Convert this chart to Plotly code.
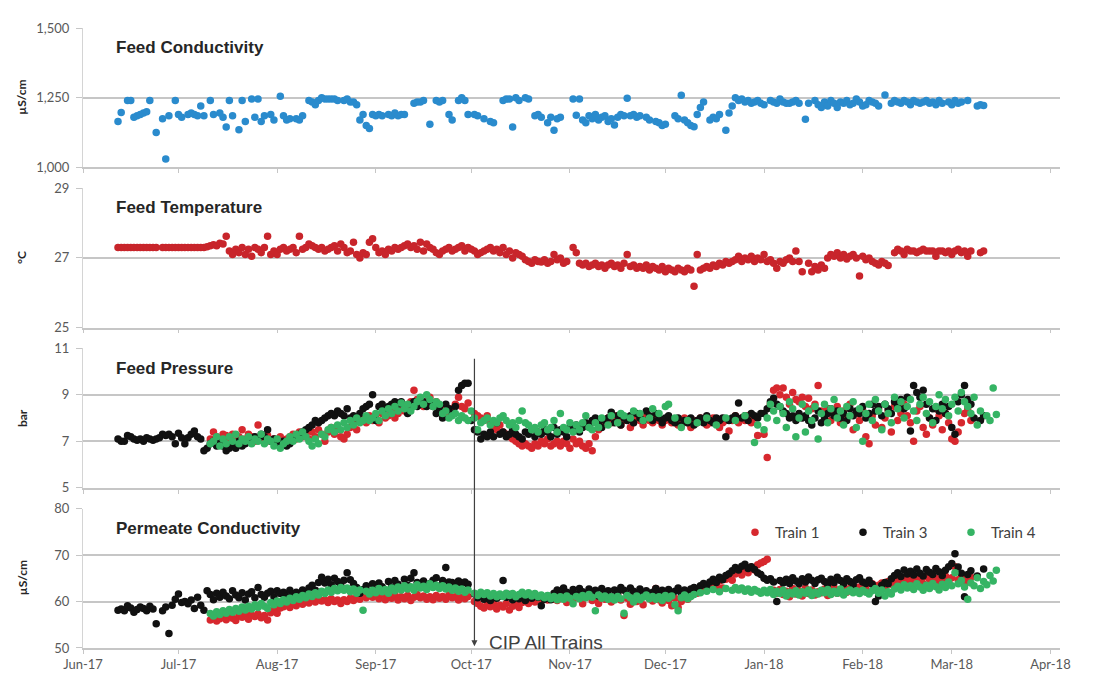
import pandas as pd
import plotly.graph_objects as go
from plotly.subplots import make_subplots

# ---------------- data (daily readings, None = no reading) ----------------
START_T3 = "2017-06-12"   # feed data and Train 3 start
START_T14 = "2017-07-11"  # Train 1 and Train 4 start
CIP_DATE = "2017-10-02"

FEED_COND = [
 1165,1197,None,1240,1240,1180,1185, 1190,1195,1200,1240,None,1125,None,
 1175,1030,1185,None,1240,1190,1180, None,1190,1195,1190,1185,1220,1185,
 None,1240,1190,None,1195,1180,1145, 1240,1185,None,1135,1240,1165,None,
 1245,1180,1245,1165,1185,None,1190, 1170,None,1255,1185,1170,1175,None,
 1175,1170,1185,None,1240,1235,1225, 1240,1250,1245,1245,1245,1245,1240,
 None,1240,1245,1235,1235,1225,1170, 1190,1150,1140,1190,1185,1190,1185,
 None,1190,1185,1195,1185,1190,1190, None,None,1230,1235,1235,1240,None,
 1155,None,1240,1235,1240,None,1190, 1170,None,1240,1250,1240,1190,None,
 1190,1185,None,1175,None,1165,1160, None,None,1240,1245,1245,1145,1250,
 1240,None,1250,1245,None,1185,1190, 1180,None,1160,1180,1133,1175,1180,
 None,None,None,1245,1187,1245,1170, 1160,1185,1175,1190,1170,1180,1185,
 1165,1175,1152,1180,1190,1185,1248, 1185,1190,1180,1185,None,1180,1170,
 None,1165,1160,1150,1155,None,None, 1185,1175,1259,1170,1160,1150,1146,
 1190,1215,1235,None,1170,1180,1175, 1190,None,1133,1195,1220,1250,1240,
 1245,1235,1240,1230,1235,1240,1230, 1225,None,1240,1235,1230,1245,1235,
 1230,1230,1235,1240,1230,None,1173, 1230,None,1240,1225,1215,1235,1220,
 1240,1230,1215,1235,1230,1240,1225, 1230,1245,1235,1220,1225,1240,1235,
 1230,1220,None,1260,None,1230,1240, 1235,1230,1240,1235,1225,1240,1235,
 1230,1235,1240,1230,1235,1225,1240, 1230,None,1235,1225,1240,1230,1235,
 None,1240,None,None,1220,1225,1222]

FEED_TEMP = [
 27.3,27.3,27.3,27.3,27.3,27.3,27.3, 27.3,27.3,27.3,27.3,27.3,27.3,None,
 27.3,27.3,27.3,27.3,27.3,27.3,27.3, 27.3,27.3,27.3,27.3,27.3,27.3,27.3,
 27.32,27.35,27.38,27.35,27.42,27.4,27.62, 27.2,27.1,27.25,27.15,27.3,27.1,27.25,
 27.05,27.3,27.25,27.15,27.3,27.62,27.1, 27.2,27.1,27.25,27.3,27.2,27.25,27.3,
 27.15,27.62,27.25,27.3,27.4,27.35,27.3, 27.25,27.3,27.2,27.25,27.3,27.35,27.2,
 27.4,27.3,27.15,27.2,27.45,27.1,27.0, 27.15,27.1,27.45,27.55,27.3,27.15,27.2,
 27.1,27.25,27.2,27.3,27.25,27.3,27.35, 27.4,27.3,27.35,27.25,27.45,27.2,27.4,
 27.3,27.25,27.15,27.1,27.2,27.25,27.3, 27.2,27.25,27.3,27.35,27.2,27.3,27.25,
 27.2,27.1,27.15,27.2,27.25,27.3,27.2, 27.25,27.15,27.3,27.1,27.2,27.0,27.15,
 27.1,27.05,26.95,26.9,26.85,26.95,26.9, 26.88,26.95,26.85,26.9,27.1,26.95,27.0,
 26.85,26.9,None,27.3,27.15,26.85,26.8, 26.85,26.75,26.8,26.85,26.75,26.8,26.7,
 26.8,26.85,26.75,26.8,26.7,26.85,27.1, 26.75,26.8,26.7,26.75,26.7,26.8,26.65,
 26.75,26.7,26.65,26.75,26.6,26.7,26.65, 26.6,26.7,26.65,26.6,26.7,26.65,26.19,
 27.1,26.65,26.7,26.75,26.7,26.8,26.75, 26.85,26.8,26.9,26.85,26.9,26.95,27.05,
 26.9,27.0,26.95,27.05,26.9,27.0,26.95, 27.1,26.9,26.95,26.85,26.7,26.9,26.85,
 26.95,27.0,26.9,27.2,26.9,26.6,None, 26.85,26.6,26.75,26.65,26.8,26.7,27.0,
 27.1,27.05,27.15,27.0,27.1,26.97,27.05, 27.1,27.0,26.48,27.05,26.95,27.0,26.9,
 26.85,26.8,26.9,26.85,26.78,None,27.15, 27.25,27.2,27.1,27.25,27.2,27.2,27.15,
 27.2,27.25,27.2,27.2,27.2,27.05,27.2, 27.2,27.15,27.2,27.1,27.2,27.25,27.15,
 27.2,27.05,27.2,None,None,27.15,27.2]

PRESS_T3 = [
 7.1,7.0,7.0,7.25,7.2,7.1,7.05, 7.1,7.0,7.15,7.1,7.05,7.1,7.15,
 7.3,7.25,7.3,7.2,6.9,7.35,7.15, 6.9,7.15,7.3,7.45,7.2,7.1,6.6,
 6.7,6.9,7.0,6.8,7.0,6.8,6.6, 6.7,6.9,6.7,7.0,6.8,6.9,7.1,
 7.0,7.2,7.1,7.3,7.2,7.5,7.0, 7.1,7.0,6.9,7.0,6.8,6.9,7.1,
 7.2,7.3,7.4,7.5,7.6,7.7,7.9, 7.8,7.9,8.0,8.1,8.2,8.1,8.3,
 8.2,8.1,8.4,8.0,8.1,8.0,8.2, 8.4,8.5,8.6,9.0,7.9,8.5,8.6,
 8.4,8.5,8.6,8.7,8.6,8.7,8.5, 8.2,8.6,8.7,8.5,8.6,8.7,8.5,
 8.6,8.5,8.2,8.4,8.0,8.6,8.4, 8.2,8.5,9.2,9.4,9.5,9.5,7.9,
 7.5,7.4,7.1,7.3,7.2,7.4,7.2, 7.8,7.3,7.4,7.2,7.3,7.5,7.3,
 7.2,7.1,7.4,7.3,7.5,7.2,7.4, 7.3,7.5,7.4,7.2,7.6,7.3,7.5,
 7.4,7.2,7.6,7.5,7.7,7.4,7.6, 7.8,7.7,7.9,8.0,7.8,7.6,7.9,
 8.0,8.25,7.8,8.1,7.7,8.0,7.9, 8.1,7.8,8.2,8.0,7.9,8.3,8.1,
 7.9,8.2,8.0,7.8,8.0,8.1,7.9, 7.8,8.0,7.7,7.9,7.8,8.0,7.7,
 7.9,8.0,7.8,8.1,7.9,7.8,8.0, 7.9,8.0,7.2,7.9,8.0,8.1,8.65,
 8.0,8.1,7.9,8.2,8.1,8.0,8.2, 8.2,8.4,8.7,8.85,8.6,8.5,8.3,
 8.2,8.0,8.1,7.9,8.2,8.0,8.1, 7.9,7.7,8.0,8.3,7.8,8.0,8.2,
 8.4,8.1,8.3,8.0,8.2,7.9,8.4, 8.1,8.3,8.2,8.5,8.0,8.2,8.6,
 8.3,8.5,8.1,8.6,8.4,8.2,8.7, 8.5,8.8,8.4,8.9,7.45,9.4,9.1,
 8.9,9.2,8.6,8.0,8.4,7.9,8.3, 8.6,8.2,8.5,7.6,7.3,8.7,9.0,
 9.4,8.8,8.6,8.0,None,7.9,8.1]

PRESS_T1 = [
 7.1,7.4,7.2,7.0,7.3,7.25,7.1, 7.3,7.0,7.2,7.5,7.1,7.3,7.2,
 7.0,7.7,7.2,7.1,7.25,7.0,7.1, 6.9,7.2,7.0,7.1,7.2,7.3,7.1,
 7.4,7.2,7.3,7.1,7.4,7.2,7.5, 7.3,7.0,7.4,7.6,7.3,7.5,7.2,
 7.1,7.3,7.6,7.8,7.5,7.9,8.0, 7.8,8.1,7.9,8.0,7.8,8.2,8.0,
 8.1,8.3,8.0,8.2,8.4,8.3,8.5, 8.7,9.2,8.8,8.6,8.5,8.7,8.9,
 8.6,8.7,8.5,8.3,8.4,8.2,8.4, 8.6,8.9,8.5,8.4,8.65,None,8.2,
 8.1,8.0,7.9,8.1,7.8,7.6,7.5, 7.7,7.4,7.3,7.2,7.1,7.0,6.9,
 6.8,6.9,6.8,6.7,6.9,6.8,7.0, 6.9,7.1,6.8,6.9,7.0,6.8,7.0,
 6.9,6.7,7.1,6.9,7.0,6.8,6.7, 6.9,6.6,7.2,7.5,7.7,7.9,8.0,
 7.8,8.1,7.9,7.7,7.9,8.0,7.6, 7.8,8.0,7.9,7.7,8.1,7.9,7.8,
 8.0,7.9,7.7,7.9,8.0,7.8,7.9, 7.7,7.9,8.0,7.8,7.6,7.9,7.8,
 8.0,7.9,7.7,7.8,8.0,7.9,7.6, 7.8,7.9,7.45,7.9,8.1,7.8,8.0,
 7.9,8.1,7.8,8.0,7.25,None,7.3, 6.3,8.6,9.2,9.3,9.0,9.3,8.9,
 8.6,9.1,8.8,8.7,8.9,8.5,8.85, 8.4,8.6,9.4,8.3,8.1,8.4,7.9,
 8.2,8.5,7.8,8.3,8.0,8.6,7.5, 8.2,7.9,8.3,7.2,6.9,8.1,7.7,
 8.4,7.6,8.0,8.3,7.4,8.5,7.9, 8.2,8.6,8.1,7.8,7.0,8.3,8.5,
 7.6,7.3,8.0,7.7,8.4,8.1,7.5, 8.2,7.8,7.1,7.0,7.4,7.8,8.2,
 8.4,7.9]

PRESS_T4 = [
 6.9,7.0,7.2,6.8,7.1,6.9,7.2, 7.0,7.3,6.9,7.1,7.0,7.2,6.9,
 7.1,7.0,7.3,6.9,7.1,7.0,6.8, 7.1,6.7,6.9,7.0,7.2,7.0,7.3,
 7.1,7.4,7.2,7.0,6.8,7.1,6.9, 7.3,7.2,7.5,7.6,7.4,7.7,7.5,
 7.8,7.6,7.9,7.7,8.0,7.8,7.9, 8.1,7.9,8.0,8.2,7.9,8.3,8.1,
 8.4,8.2,8.5,8.3,8.65,8.4,8.6, 8.3,8.5,8.7,8.9,8.6,9.0,8.8,
 8.5,8.7,8.6,8.2,8.3,8.0,8.1, 8.2,7.9,8.1,8.0,7.9,8.3,8.0,
 7.5,7.8,7.9,8.0,7.7,7.9,7.8, 8.0,8.1,7.9,7.7,7.8,7.6,7.9,
 8.3,7.8,7.7,7.5,7.6,7.4,7.7, 7.8,7.5,7.6,7.9,7.4,8.2,7.6,
 7.5,7.8,7.4,7.7,7.5,7.8,8.1, 7.6,7.5,7.8,7.6,8.0,None,7.7,
 8.1,None,7.8,8.2,8.1,None,8.0, 8.3,None,8.2,7.9,None,8.0,8.4,
 None,8.2,None,8.5,8.6,None,8.0, None,7.6,None,7.9,None,None,7.8,
 None,None,8.0,None,None,7.7,None, None,8.0,None,None,7.9,None,None,
 8.1,None,None,6.95,7.7,None,7.5, 8.0,8.6,8.3,7.9,8.5,8.2,7.6,
 8.7,8.4,7.2,8.0,8.6,7.4,8.3, 7.9,8.5,7.1,8.2,8.6,7.8,8.4,
 8.8,8.0,8.3,7.7,8.5,8.1,8.7, 7.6,8.4,7.0,8.2,8.6,7.9,8.8,
 8.3,7.5,8.6,8.2,7.8,8.9,8.4, 8.7,8.0,8.5,8.8,8.3,7.9,8.6,
 8.9,8.2,8.7,7.8,8.5,9.0,8.4, 8.8,8.1,8.6,8.9,8.3,9.1,8.7,
 8.5,8.2,8.9,7.7,8.3,None,8.1, 7.9,9.3,8.15]

PERM_T3 = [
 58.1,58.4,58.0,59.1,58.6,57.7,58.3, 58.8,58.5,58.0,59.0,58.4,55.2,None,
 58.0,58.8,53.1,59.2,60.5,61.6,59.8, 60.0,59.5,60.3,58.5,60.9,59.2,58.1,
 62.3,61.5,60.4,61.8,60.9,62.0,61.2, 60.6,62.3,61.4,60.8,61.9,60.3,61.6,
 62.1,60.8,63.0,61.5,60.9,61.8,62.2, 61.0,62.3,61.7,62.0,61.1,62.4,61.6,
 62.0,61.3,62.5,61.8,62.9,63.5,62.4, 64.1,65.2,64.0,64.8,63.6,65.0,64.3,
 63.5,64.6,66.2,64.7,63.9,63.0,61.8, 62.6,63.4,62.1,63.8,62.5,64.0,63.2,
 62.4,64.3,63.1,64.5,63.7,62.9,64.8, 63.5,65.0,66.2,64.1,63.6,64.4,62.8,
 63.9,64.6,65.1,63.3,64.5,67.3,64.2, 64.1,63.8,64.4,63.9,64.2,63.7,None,
 61.6,60.8,61.3,60.5,61.0,60.2,61.4, 60.7,61.2,64.5,60.9,61.5,60.4,61.1,
 60.6,61.3,60.2,61.0,60.7,61.5,60.9, 59.1,60.5,61.2,60.4,61.8,62.5,61.6,
 62.9,62.0,61.3,62.6,61.5,62.8,62.1, 61.4,62.7,61.9,62.4,61.2,62.8,61.6,
 62.3,61.0,62.5,61.8,63.0,62.4,61.5, 62.9,62.2,61.6,62.7,61.9,62.3,61.4,
 62.0,62.8,61.7,62.4,61.9,62.6,61.5, 62.2,62.9,61.8,62.5,62.0,62.7,63.0,
 62.6,63.4,63.9,63.3,64.2,64.8,64.1, 65.2,64.7,65.6,66.0,66.6,67.3,66.8,
 67.6,68.0,67.1,67.5,66.9,66.2,65.8, 65.0,64.6,64.9,64.2,60.0,64.5,64.0,
 64.8,63.9,65.1,64.4,63.8,64.9,64.2, 65.3,64.6,63.9,64.7,65.0,64.3,63.7,
 64.8,64.1,65.2,64.5,63.8,64.9,64.3, 63.6,64.7,65.1,64.2,63.9,64.6,63.7,
 60.0,61.2,63.5,64.1,63.8,64.9,65.6, 66.2,65.4,66.8,65.9,66.5,65.7,67.0,
 66.1,65.5,66.9,66.3,65.8,67.1,66.4, 65.6,66.7,67.5,68.2,70.3,67.4,66.1,
 61.0,65.8,66.6,None,65.5,None,67.0]

PERM_T1 = [
 56.0,56.5,55.8,56.3,56.9,56.1,57.2, 56.4,55.9,57.0,56.6,57.4,56.2,57.1,
 56.8,57.3,56.5,57.0,56.0,57.6,58.2, 57.5,58.6,58.9,59.3,58.7,59.6,59.1,
 60.0,59.4,60.2,59.7,60.3,59.9,60.5, 60.1,60.4,59.8,60.6,60.0,60.3,59.6,
 60.4,60.0,60.7,60.2,61.0,60.5,61.2, 60.8,61.5,60.9,61.3,60.6,61.6,60.4,
 61.1,60.7,61.4,60.3,61.0,60.6,61.3, 60.2,60.9,61.5,60.8,61.2,60.5,61.0,
 60.4,61.3,60.7,61.1,60.5,61.4,60.8, 61.0,60.3,60.9,60.6,61.1,None,60.0,
 59.6,59.0,58.6,59.3,58.9,59.5,58.4, 59.2,58.8,59.6,58.2,59.0,59.4,58.7,
 59.8,60.2,59.6,60.4,59.9,60.6,60.1, 60.8,60.3,61.0,60.5,60.2,61.1,60.6,
 59.8,60.9,60.4,61.3,60.7,59.5,60.9, 61.4,60.2,60.8,59.6,61.2,60.5,61.0,
 59.9,60.6,61.5,60.3,57.0,60.7,59.4, 61.1,60.0,60.8,59.3,61.4,60.6,60.1,
 62.8,60.4,59.7,60.9,60.2,59.1,60.7, 58.7,60.0,61.3,60.5,61.9,62.4,61.8,
 62.7,63.1,62.5,63.6,64.0,63.3,64.4, 62.9,64.8,65.3,64.6,65.9,66.4,65.7,
 66.9,66.2,67.4,66.8,67.9,68.3,68.6, 69.1,None,62.4,61.8,62.6,61.5,62.2,
 61.0,62.8,61.6,62.3,61.2,62.9,61.7, 62.5,61.4,62.1,61.9,62.7,61.3,62.4,
 63.0,61.8,62.6,63.4,62.0,62.8,63.6, 62.2,63.1,62.5,63.3,62.0,63.8,62.7,
 63.5,64.0,63.2,64.3,63.7,64.6,63.9, 64.8,64.2,65.0,64.5,63.8,65.2,64.6,
 63.9,65.4,64.8,64.1,65.0,63.7,64.9, 65.5,64.3,65.1,67.5,64.7,65.3,64.0,
 64.6,65.2]

PERM_T4 = [
 57.4,56.9,57.8,57.2,58.0,57.5,58.3, 57.7,58.5,57.9,58.8,58.2,59.0,58.4,
 59.3,58.7,59.6,59.0,58.5,59.8,59.3, 60.1,59.6,60.4,59.9,60.7,60.2,61.0,
 60.5,61.3,60.8,61.6,61.1,61.9,61.4, 62.2,61.7,62.5,62.0,62.8,62.3,63.0,
 62.4,62.9,62.1,62.7,61.8,62.5,58.1, 62.2,61.6,62.4,61.9,62.8,62.1,62.6,
 61.8,62.9,62.3,63.1,62.5,63.4,62.7, 63.2,62.4,63.6,62.9,63.3,62.6,63.8,
 63.0,63.5,62.8,63.4,62.7,63.1,62.4, 62.9,62.2,62.7,62.0,62.5,None,61.8,
 61.3,62.0,61.5,61.9,61.2,61.7,61.0, 61.6,61.1,61.8,61.3,61.7,61.0,61.5,
 62.0,61.4,61.9,61.2,61.7,61.0,61.4, 60.8,61.3,60.6,61.1,60.4,61.0,60.5,
 61.2,60.7,59.5,61.1,60.6,61.3,60.8, 61.5,60.9,58.0,61.4,60.7,61.2,60.5,
 61.0,60.3,61.1,60.6,57.5,61.3,60.8, 59.9,61.2,60.4,60.9,61.4,60.6,61.1,
 60.5,61.0,60.2,61.3,60.7,61.2,59.3, 58.0,60.8,61.4,60.6,61.1,61.5,None,
 61.9,None,62.2,None,62.6,None,62.1, None,62.8,None,62.4,63.0,62.5,62.9,
 62.2,62.7,62.0,62.6,62.2,61.8,62.4, 61.9,62.6,61.5,62.2,61.7,62.4,61.2,
 62.0,61.6,62.3,61.4,62.1,61.8,62.5, 61.3,62.0,61.6,62.4,61.9,62.6,61.5,
 62.2,61.8,62.7,61.4,62.1,62.5,61.9, 62.3,61.7,62.4,62.0,61.6,62.3,62.8,
 61.8,62.5,61.2,62.1,61.6,62.7,63.3, 62.5,63.6,62.9,63.4,62.6,63.8,63.1,
 62.4,63.5,62.8,63.9,63.2,62.5,63.7, 63.0,64.2,63.4,66.2,63.8,64.5,63.1,
 60.5,64.0,63.4,65.1,62.8,64.3,63.6, 65.6,64.4,66.7]

PANEL_TITLES = ["Feed Conductivity", "Feed Temperature", "Feed Pressure", "Permeate Conductivity"]
Y_TITLES = ["µS/cm", "°C", "bar", "µS/cm"]
Y_RANGES = [[1000, 1500], [25, 29], [5, 11], [50, 80]]
Y_TICKS = [[1000, 1250, 1500], [25, 27, 29], [5, 7, 9, 11], [50, 60, 70, 80]]
X_RANGE = ["2017-06-01", "2018-04-04"]
TRAINS = ["Train 1", "Train 3", "Train 4"]

# ---------------- figure ----------------
BLUE = "#2A8BCD"
TEMP_RED = "#C8252B"
RED = "#D7282E"
BLACK = "#111111"
GREEN = "#35B464"
MS = 7.5


def days(start, vals):
    return pd.date_range(start, periods=len(vals), freq="D")


fig = make_subplots(rows=4, cols=1, shared_xaxes=True, vertical_spacing=21 / 628)

def mk(start, vals, color, name, row, show):
    fig.add_trace(go.Scatter(x=days(start, vals), y=vals, mode="markers", name=name,
                             marker=dict(color=color, size=MS, line=dict(width=0)),
                             showlegend=show, legendgroup=name), row=row, col=1)

mk(START_T3, FEED_COND, BLUE, "Feed Conductivity", 1, False)
mk(START_T3, FEED_TEMP, TEMP_RED, "Feed Temperature", 2, False)
mk(START_T14, PRESS_T1, RED, TRAINS[0], 3, False)
mk(START_T3, PRESS_T3, BLACK, TRAINS[1], 3, False)
mk(START_T14, PRESS_T4, GREEN, TRAINS[2], 3, False)
mk(START_T14, PERM_T1, RED, TRAINS[0], 4, True)
mk(START_T3, PERM_T3, BLACK, TRAINS[1], 4, True)
mk(START_T14, PERM_T4, GREEN, TRAINS[2], 4, True)

TICKFONT = dict(family="Lato, Liberation Sans, sans-serif", size=13, color="#595959")
GRID = "#C6C6C6"

for r in range(1, 5):
    fig.update_xaxes(range=X_RANGE, showgrid=False, zeroline=False, showline=True,
                     linecolor=GRID, linewidth=1.5, ticks="outside", ticklen=4,
                     tickcolor=GRID, tickwidth=1, dtick="M1", tick0="2017-06-01",
                     tickformat="%b-%y", tickfont=TICKFONT, row=r, col=1)
    fig.update_yaxes(range=Y_RANGES[r - 1], tickvals=Y_TICKS[r - 1], tickformat=",d",
                     showgrid=True, gridcolor=GRID, gridwidth=1.5, zeroline=False,
                     showline=True, linecolor="#D4D4D4", linewidth=1,
                     ticks="outside", ticklen=6, tickcolor=GRID, tickfont=TICKFONT,
                     ticklabelstandoff=4, row=r, col=1)

fig.update_xaxes(showticklabels=True, row=4, col=1)

# page body has an 8px margin, so the figure is laid out 8px smaller
W, H = 1088, 682
ML, MR, MT, MB = 75, 36, 12, 42
PLOT_W = W - ML - MR
PLOT_H = H - MT - MB


def px_x(page_x):
    return (page_x - 8 - ML) / PLOT_W


def px_y(page_y):
    return 1 - (page_y - 8 - MT) / PLOT_H


ann = []
yaxes = [fig.layout.yaxis, fig.layout.yaxis2, fig.layout.yaxis3, fig.layout.yaxis4]
for i, ax in enumerate(yaxes):
    d0, d1 = ax.domain
    ann.append(dict(xref="paper", yref="paper", x=px_x(114), y=d1 - 20 / PLOT_H,
                    xanchor="left", yanchor="middle", showarrow=False,
                    text="<b>%s</b>" % PANEL_TITLES[i],
                    font=dict(family="Liberation Sans, Arial, sans-serif", size=17, color="#262626")))
    ann.append(dict(xref="paper", yref="paper", x=px_x(22), y=(d0 + d1) / 2,
                    xanchor="center", yanchor="middle", showarrow=False, textangle=-90,
                    text="<b>%s</b>" % Y_TITLES[i],
                    font=dict(family="Lato, Liberation Sans, sans-serif", size=12, color="#262626")))

# CIP arrow and label
ann.append(dict(xref="x4", yref="y4", x=CIP_DATE, y=50.4, ax=0, ay=-289,
                axref="pixel", ayref="pixel", text="", showarrow=True,
                arrowhead=2, arrowsize=1, arrowwidth=1.2, arrowcolor="#404040"))
ann.append(dict(xref="x4", yref="y4", x="2017-10-06", y=51.1, xanchor="left",
                yanchor="middle", showarrow=False, text="CIP All Trains",
                font=dict(family="Liberation Sans, Arial, sans-serif", size=19, color="#404040")))

fig.update_layout(
    width=W, height=H,
    margin=dict(l=ML, r=MR, t=MT, b=MB),
    plot_bgcolor="white", paper_bgcolor="white",
    annotations=ann,
    legend=dict(orientation="h", x=px_x(735), y=px_y(531),
                xanchor="left", yanchor="middle", bgcolor="rgba(0,0,0,0)",
                font=dict(family="Lato, Liberation Sans, sans-serif", size=15, color="#404040"),
                entrywidth=63, entrywidthmode="pixels", itemwidth=30,
                tracegroupgap=0),
)

fig.write_html("out.html")
